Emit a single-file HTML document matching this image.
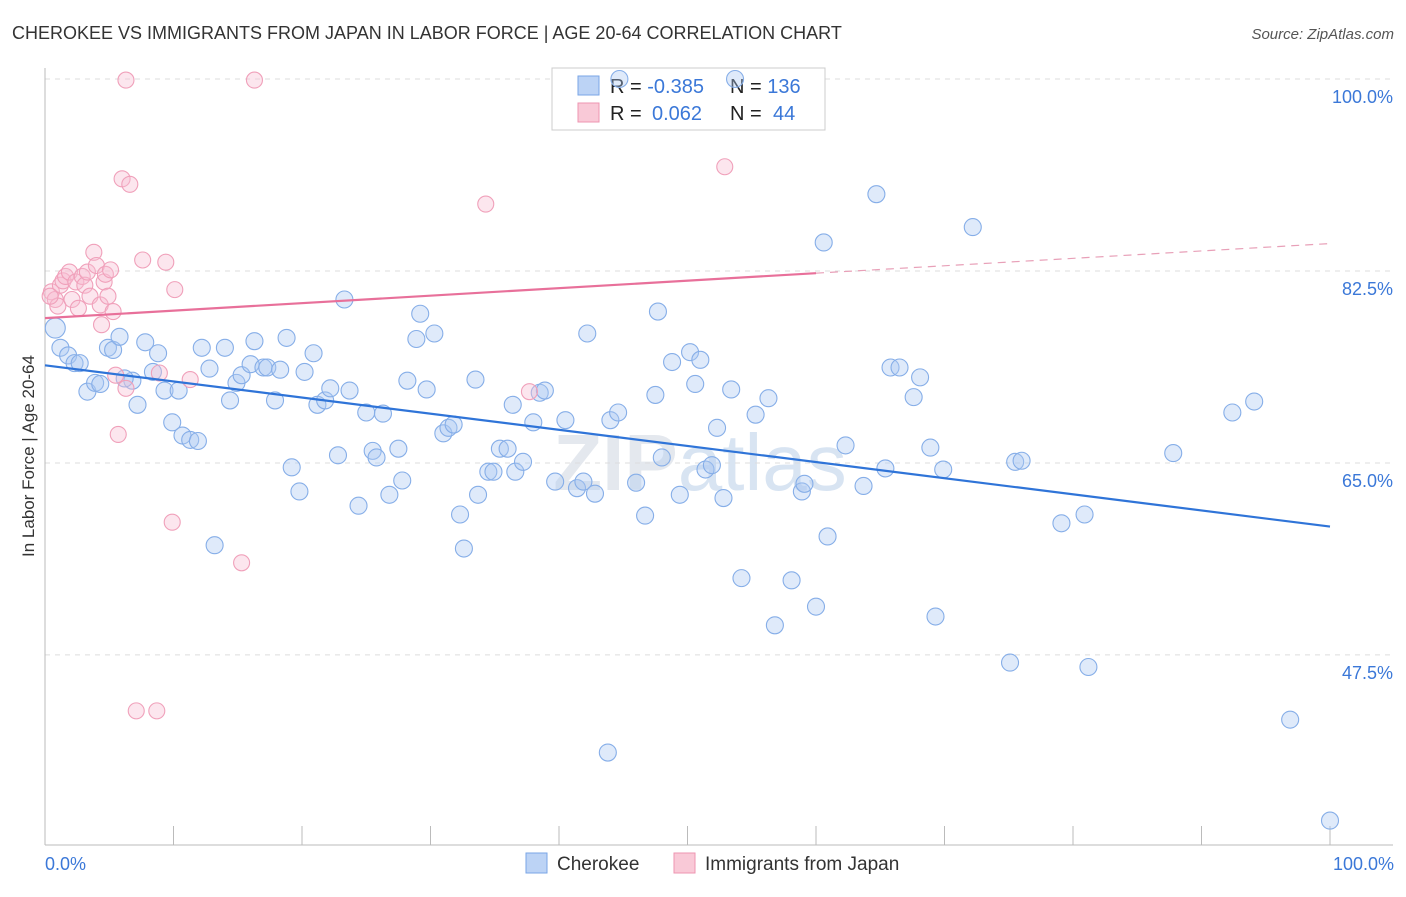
<!DOCTYPE html>
<html><head><meta charset="utf-8"><style>
body{margin:0;background:#fff;font-family:"Liberation Sans",sans-serif;}
svg text{font-family:"Liberation Sans",sans-serif;}
</style></head><body>
<svg id="chart" width="1406" height="892" xmlns="http://www.w3.org/2000/svg">
<text x="12" y="39" font-size="18" fill="#333">CHEROKEE VS IMMIGRANTS FROM JAPAN IN LABOR FORCE | AGE 20-64 CORRELATION CHART</text>
<text x="1394" y="39" font-size="15" fill="#555" text-anchor="end" font-style="italic">Source: ZipAtlas.com</text>
<text x="700" y="490" font-size="80" fill="#e4e8ee" text-anchor="middle" font-weight="bold">ZIP<tspan font-weight="normal" fill="#d8e4f2">atlas</tspan></text>
<g id="grid"></g><g id="axes"></g>
<g>
<rect x="552" y="68" width="273" height="62" fill="#fff" stroke="#ccc"/>
<rect x="578" y="76" width="21" height="19" fill="#bcd3f5" stroke="#7aa6e6"/>
<rect x="578" y="103" width="21" height="19" fill="#f9c9d7" stroke="#ee95b1"/>
<text x="610" y="93" font-size="20" fill="#222">R = <tspan fill="#3b78d8">-0.385</tspan></text>
<text x="730" y="93" font-size="20" fill="#222">N = <tspan fill="#3b78d8">136</tspan></text>
<text x="610" y="120" font-size="20" fill="#222">R = <tspan fill="#3b78d8" x="652">0.062</tspan></text>
<text x="730" y="120" font-size="20" fill="#222">N = <tspan fill="#3b78d8" x="773">44</tspan></text>
</g>
<g id="pts"></g><g id="lines"></g>
<text transform="translate(34,456) rotate(-90)" font-size="17" fill="#333" text-anchor="middle">In Labor Force | Age 20-64</text>
<text x="45" y="870" font-size="18" fill="#3b78d8">0.0%</text>
<text x="1394" y="870" font-size="18" fill="#3b78d8" text-anchor="end">100.0%</text>
<g>
<rect x="526" y="853" width="21" height="20" fill="#bcd3f5" stroke="#7aa6e6"/>
<text x="557" y="870" font-size="19" fill="#333">Cherokee</text>
<rect x="674" y="853" width="21" height="20" fill="#f9c9d7" stroke="#ee95b1"/>
<text x="705" y="870" font-size="19" fill="#333">Immigrants from Japan</text>
</g>
</svg>
<script>
const yTicks=[100,82.5,65,47.5];
const yTickLabels=["100.0%","82.5%","65.0%","47.5%"];
const xTicks=[0,10,20,30,40,50,60,70,80,90,100];
const cherokeeX=[0.8,1.2,1.8,2.3,2.7,3.3,3.9,4.3,4.9,5.3,5.8,6.8,6.2,7.2,7.8,8.4,8.8,9.3,9.9,10.4,10.7,11.3,11.9,12.2,12.8,13.2,14.0,14.4,14.9,15.3,16.0,16.3,17.0,17.3,17.9,18.3,18.8,19.2,19.8,20.2,20.9,21.2,21.8,22.2,22.8,23.3,23.7,24.4,25.0,25.5,25.8,26.3,26.8,27.5,27.8,28.2,29.2,28.9,29.7,30.3,31.0,31.4,31.8,32.3,32.6,33.5,33.7,34.5,34.9,35.4,36.0,36.4,36.6,37.2,38.0,38.5,38.9,39.7,40.5,41.4,41.9,42.2,42.8,43.8,44.0,44.6,46.0,46.7,47.5,48.0,47.7,48.8,49.4,50.2,50.6,51.0,51.4,51.9,52.3,52.8,53.4,54.2,55.3,56.3,56.8,58.1,58.9,59.1,60.0,60.6,60.9,62.3,63.7,64.7,65.4,65.8,66.5,67.6,68.1,68.9,69.3,69.9,72.2,75.1,75.5,76.0,79.1,80.9,81.2,87.8,92.4,94.1,96.9,100,53.7,44.7];
const cherokeeY=[77.3,75.5,74.8,74.1,74.1,71.5,72.3,72.2,75.5,75.3,76.5,72.5,72.7,70.3,76.0,73.3,75.0,71.6,68.7,71.6,67.5,67.1,67.0,75.5,73.6,57.5,75.5,70.7,72.3,73.0,74.0,76.1,73.7,73.7,70.7,73.5,76.4,64.6,62.4,73.3,75.0,70.3,70.7,71.8,65.7,79.9,71.6,61.1,69.6,66.1,65.5,69.5,62.1,66.3,63.4,72.5,78.6,76.3,71.7,76.8,67.7,68.2,68.5,60.3,57.2,72.6,62.1,64.2,64.2,66.3,66.3,70.3,64.2,65.1,68.7,71.4,71.6,63.3,68.9,62.7,63.3,76.8,62.2,38.6,68.9,69.6,63.2,60.2,71.2,65.5,78.8,74.2,62.1,75.1,72.2,74.4,64.4,64.8,68.2,61.8,71.7,54.5,69.4,70.9,50.2,54.3,62.4,63.1,51.9,85.1,58.3,66.6,62.9,89.5,64.5,73.7,73.7,71.0,72.8,66.4,51.0,64.4,86.5,46.8,65.1,65.2,59.5,60.3,46.4,65.9,69.6,70.6,41.6,32.4,100,100];
const japanX=[0.5,0.8,1.0,1.2,1.4,1.6,1.9,2.1,2.4,2.6,2.9,3.1,3.3,3.5,3.8,4.0,4.3,4.4,4.6,4.7,5.1,4.9,5.3,5.5,5.7,6.0,6.3,6.3,6.6,7.1,7.6,8.7,8.9,9.4,9.9,10.1,11.3,15.3,16.3,34.3,37.7,52.9,0.4];
const japanY=[80.6,79.9,79.3,81.2,81.6,82.0,82.4,79.9,81.5,79.1,82.0,81.2,82.4,80.2,84.2,83.0,79.4,77.6,81.5,82.2,82.6,80.2,78.8,73.0,67.6,90.9,71.8,99.9,90.4,42.4,83.5,42.4,73.2,83.3,59.6,80.8,72.6,55.9,99.9,88.6,71.5,92.0,80.2];
const cherokeeTrend=[73.9,59.2];
const japanTrend=[78.2,82.3,85.0];
const NS="http://www.w3.org/2000/svg";
const sx=v=>45+v*12.85;
const sy=v=>79+(100-v)*10.97;
function mk(tag,attrs,parent){const e=document.createElementNS(NS,tag);for(const k in attrs)e.setAttribute(k,attrs[k]);document.getElementById(parent).appendChild(e);return e;}
yTicks.forEach((t,i)=>{
 const g=mk('line',{x1:45,x2:1393,y1:sy(t),y2:sy(t),stroke:'#ddd','stroke-dasharray':'5,5'},'grid');
 
 
 const l=mk('text',{x:1393,y:sy(t)+24,'font-size':18,fill:'#3b78d8','text-anchor':'end'},'grid');
 l.textContent=yTickLabels[i];
 
 
});
const ax=mk('line',{x1:45,x2:45,y1:68,y2:845,stroke:'#bbb'},'axes');


const bx=mk('line',{x1:45,x2:1393,y1:845,y2:845,stroke:'#bbb'},'axes');


xTicks.forEach(t=>{
 const k=mk('line',{x1:sx(t),x2:sx(t),y1:826,y2:845,stroke:'#bbb'},'axes');
 
 
});
cherokeeX.forEach((x,i)=>{
 const c=mk('circle',{cx:sx(x),cy:sy(cherokeeY[i]),r:i==0?10:8.5,fill:'rgba(170,200,242,0.38)',stroke:'#86aee8','stroke-width':1.1},'pts');
 
 
});
japanX.forEach((x,i)=>{
 const c=mk('circle',{cx:sx(x),cy:sy(japanY[i]),r:8,fill:'rgba(248,190,210,0.38)',stroke:'#f0a0ba','stroke-width':1.1},'pts');
 
 
});
const t1=mk('line',{x1:sx(0),y1:sy(cherokeeTrend[0]),x2:sx(100),y2:sy(cherokeeTrend[1]),stroke:'#2f74d8','stroke-width':2.2},'lines');


const t2=mk('line',{x1:sx(0),y1:sy(japanTrend[0]),x2:sx(60),y2:sy(japanTrend[1]),stroke:'#e8709a','stroke-width':2.2},'lines');


const t3=mk('line',{x1:sx(60),y1:sy(japanTrend[1]),x2:sx(100),y2:sy(japanTrend[2]),stroke:'#e8a0b8','stroke-width':1.2,'stroke-dasharray':'8,6'},'lines');


</script>
</body></html>
